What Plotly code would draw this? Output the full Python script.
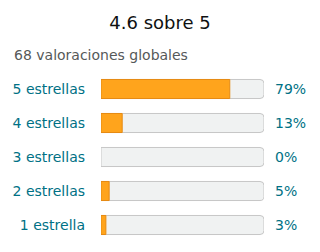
import plotly.graph_objects as go

categories = ["5 estrellas", "4 estrellas", "3 estrellas", "2 estrellas", "1 estrella"]
percents = [79, 13, 0, 5, 3]
pct_labels = ["79%", "13%", "0%", "5%", "3%"]
full = [100] * len(categories)
title_text = "4.6 sobre 5"
subtitle_text = "68 valoraciones globales"

W, H = 320, 252
ML, MR, MT, MB = 101, 56, 72, 10
FONT = "DejaVu Sans"
TEAL = "#007185"

fig = go.Figure()
fig.add_trace(go.Bar(
    y=categories, x=full, orientation="h",
    marker=dict(color="#f0f2f2", line=dict(color="#c7c7c7", width=1)),
    width=0.56, hoverinfo="skip", showlegend=False,
))
fig.add_trace(go.Bar(
    y=categories, x=[p if p > 0 else None for p in percents], orientation="h",
    marker=dict(color="#ffa41c", line=dict(color="#e68a12", width=1)),
    width=0.56, hoverinfo="skip", showlegend=False,
))

annotations = []
for c, t in zip(categories, pct_labels):
    annotations.append(dict(
        x=1, xref="paper", y=c, yref="y", text=t, showarrow=False,
        xanchor="left", xshift=9, font=dict(family=FONT, size=14, color=TEAL),
    ))
plot_h = H - MT - MB
annotations.append(dict(
    x=(12 - ML) / (W - ML - MR), xref="paper", y=(H - MB - 55) / plot_h, yref="paper",
    text=subtitle_text, showarrow=False, xanchor="left", yanchor="middle",
    font=dict(family=FONT, size=14, color="#565959"),
))

fig.update_layout(
    width=W, height=H,
    margin=dict(l=ML, r=MR, t=MT, b=MB),
    barmode="overlay", barcornerradius=4,
    paper_bgcolor="white", plot_bgcolor="white",
    title=dict(text=title_text, x=0.5, xref="container", xanchor="center",
               y=1 - 23 / H, yref="container", yanchor="middle",
               font=dict(family=FONT, size=18, color="#0f1111")),
    xaxis=dict(range=[0, 100], visible=False, fixedrange=True),
    yaxis=dict(categoryorder="array", categoryarray=categories[::-1],
               showgrid=False, zeroline=False, showline=False, ticks="",
               ticklabelstandoff=15,
               tickfont=dict(family=FONT, size=14, color=TEAL), fixedrange=True),
    annotations=annotations,
    font=dict(family=FONT),
)

fig.write_html("out.html", config={"displayModeBar": False})
